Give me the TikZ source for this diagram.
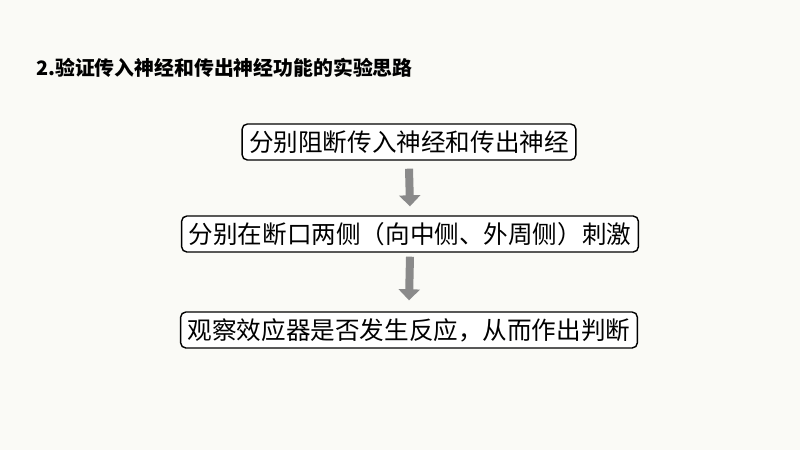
\documentclass[tikz,border=0pt]{standalone}
\usepackage{fontspec}
\newfontfamily\cjk{Noto Sans CJK SC}
\usetikzlibrary{positioning,arrows.meta}
\definecolor{bgcol}{HTML}{FAFAF6}
\definecolor{arrowgray}{HTML}{8A8A8A}

\begin{document}
\begin{tikzpicture}[x=0.02cm,y=-0.02cm,
    stepbox/.style={draw,rounded corners=3pt,line width=0.8pt,fill=white,font=\cjk\fontsize{14}{16}\selectfont,inner xsep=4pt,minimum height=0.72cm},
    flow/.style={-{Triangle[width=0.42cm,length=0.22cm]},line width=0.16cm,arrowgray}]
    \fill[bgcol] (0,0) rectangle (800,450);
    \useasboundingbox (0,0) rectangle (800,450);
    \node[anchor=west,font=\cjk\bfseries\fontsize{11.3}{13}\selectfont] (title) at (30,68) {2.验证传入神经和传出神经功能的实验思路};
    \node[stepbox] (block) at (409,142) {分别阻断传入神经和传出神经};
    \node[stepbox] (stim) at (410,234) {分别在断口两侧（向中侧、外周侧）刺激};
    \node[stepbox] (observe) at (409,330) {观察效应器是否发生反应，从而作出判断};
    \draw[flow] ([yshift=-0.16cm]block.south) -- ([yshift=0.18cm]stim.north);
    \draw[flow] ([yshift=-0.08cm]stim.south) -- ([yshift=0.22cm]observe.north);
\end{tikzpicture}
\end{document}
